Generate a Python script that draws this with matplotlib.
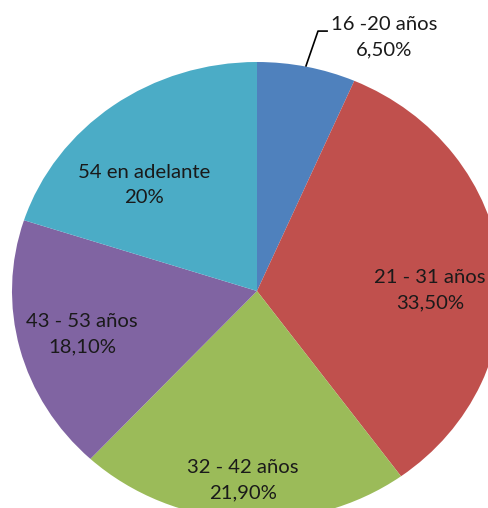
import matplotlib
matplotlib.use("Agg")
import matplotlib.pyplot as plt

# Data
labels = ["16 -20 años", "21 - 31 años", "32 - 42 años", "43 - 53 años", "54 en adelante"]
values = [6.5, 33.5, 21.9, 18.1, 20.0]
value_text = ["6,50%", "33,50%", "21,90%", "18,10%", "20%"]
colors = ["#4F81BD", "#C0504D", "#9BBB59", "#8064A2", "#4BACC6"]

# label centres in pie-radius units (Excel "best fit" placement)
label_pos = [(0.518, 1.109), (0.706, 0.004), (-0.057, -0.825), (-0.714, -0.188), (-0.461, 0.463)]

W, H = 488, 508
CX, CY = 257, 291      # pie centre in pixels (from top-left)
RX, RY = 245, 229      # pie is slightly squashed vertically

fig = plt.figure(figsize=(W / 100, H / 100), dpi=100)
ax = fig.add_axes([0, 0, 1, 1])
ax.pie(values, colors=colors, startangle=90, counterclock=False,
       wedgeprops=dict(linewidth=0))
ax.set_aspect("auto")
ax.set_xlim(-CX / RX, (W - CX) / RX)
ax.set_ylim(-(H - CY) / RY, CY / RY)
ax.axis("off")

font = ["Lato", "DejaVu Sans"]
for lab, vt, (x, y) in zip(labels, value_text, label_pos):
    ax.text(x, y, f"{lab}\n{vt}", ha="center", va="center", fontsize=14.6,
            color="#1a1a1a", family=font, linespacing=1.58)

# leader line for the small slice
ax.plot([0.200, 0.249, 0.286], [0.983, 1.135, 1.135], color="black", lw=1.2,
        clip_on=False)

fig.savefig("out.png", dpi=100, facecolor="white")
